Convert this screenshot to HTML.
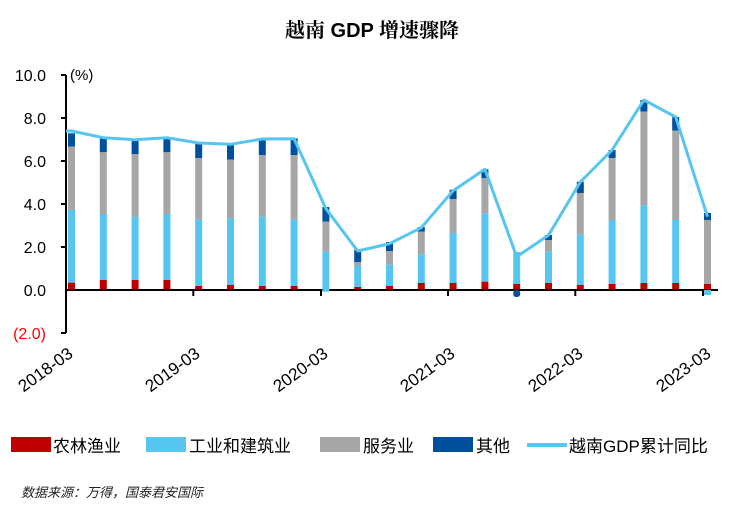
<!DOCTYPE html>
<html><head><meta charset="utf-8"><style>
body{margin:0;background:#fff;}
svg{display:block;font-family:"Liberation Sans","Noto Sans CJK SC",sans-serif;}
</style></head><body>
<svg width="753" height="505" viewBox="0 0 753 505">
<text x="372" y="37" text-anchor="middle" font-size="20" font-weight="bold" font-family="'Liberation Sans','Noto Serif CJK SC',serif">越南 GDP 增速骤降</text>
<g font-size="16" fill="#000" text-anchor="end">
<text x="46" y="81">10.0</text><text x="46" y="124">8.0</text><text x="46" y="167">6.0</text><text x="46" y="210">4.0</text><text x="46" y="253">2.0</text><text x="46" y="296">0.0</text><text x="46" y="339" fill="#FF0000">(2.0)</text>
</g>
<text x="70" y="80" font-size="15">(%)</text>
<g stroke="#000" stroke-width="2" fill="none">
<line x1="66" y1="75" x2="66" y2="333"/>
<line x1="61" y1="75" x2="66" y2="75"/><line x1="61" y1="118" x2="66" y2="118"/><line x1="61" y1="161" x2="66" y2="161"/><line x1="61" y1="204" x2="66" y2="204"/><line x1="61" y1="247" x2="66" y2="247"/><line x1="61" y1="333" x2="66" y2="333"/>
<line x1="66" y1="290" x2="718" y2="290"/>
<line x1="193.3" y1="290" x2="193.3" y2="296"/><line x1="321" y1="290" x2="321" y2="296"/><line x1="448" y1="290" x2="448" y2="296"/><line x1="575.3" y1="290" x2="575.3" y2="296"/><line x1="703" y1="290" x2="703" y2="296"/>
</g>
<g>
<g transform="translate(68,0)"><rect y="133.3" width="7" height="13.4" fill="#00509E"/><rect y="146.7" width="7" height="63.3" fill="#A6A6A6"/><rect y="210" width="7" height="72.7" fill="#56C5F0"/><rect y="282.7" width="7" height="6.8" fill="#C00000"/></g>
<g transform="translate(99.8,0)"><rect y="137" width="7" height="15.3" fill="#00509E"/><rect y="152.3" width="7" height="61.7" fill="#A6A6A6"/><rect y="214" width="7" height="66" fill="#56C5F0"/><rect y="280" width="7" height="9.5" fill="#C00000"/></g>
<g transform="translate(131.6,0)"><rect y="139" width="7" height="15" fill="#00509E"/><rect y="154" width="7" height="62.7" fill="#A6A6A6"/><rect y="216.7" width="7" height="63.3" fill="#56C5F0"/><rect y="280" width="7" height="9.5" fill="#C00000"/></g>
<g transform="translate(163.4,0)"><rect y="137" width="7" height="15.3" fill="#00509E"/><rect y="152.3" width="7" height="61.7" fill="#A6A6A6"/><rect y="214" width="7" height="66" fill="#56C5F0"/><rect y="280" width="7" height="9.5" fill="#C00000"/></g>
<g transform="translate(195.2,0)"><rect y="142" width="7" height="16" fill="#00509E"/><rect y="158" width="7" height="61.7" fill="#A6A6A6"/><rect y="219.7" width="7" height="66.3" fill="#56C5F0"/><rect y="286" width="7" height="3.5" fill="#C00000"/></g>
<g transform="translate(227,0)"><rect y="144" width="7" height="15.7" fill="#00509E"/><rect y="159.7" width="7" height="58.6" fill="#A6A6A6"/><rect y="218.3" width="7" height="66.7" fill="#56C5F0"/><rect y="285" width="7" height="4.5" fill="#C00000"/></g>
<g transform="translate(258.8,0)"><rect y="138.3" width="7" height="16.7" fill="#00509E"/><rect y="155" width="7" height="61.7" fill="#A6A6A6"/><rect y="216.7" width="7" height="69.3" fill="#56C5F0"/><rect y="286" width="7" height="3.5" fill="#C00000"/></g>
<g transform="translate(290.6,0)"><rect y="138.3" width="7" height="16.7" fill="#00509E"/><rect y="155" width="7" height="64.7" fill="#A6A6A6"/><rect y="219.7" width="7" height="66.3" fill="#56C5F0"/><rect y="286" width="7" height="3.5" fill="#C00000"/></g>
<g transform="translate(322.4,0)"><rect y="207" width="7" height="14.7" fill="#00509E"/><rect y="221.7" width="7" height="30" fill="#A6A6A6"/><rect y="251.7" width="7" height="40" fill="#56C5F0"/></g>
<g transform="translate(354.2,0)"><rect y="250" width="7" height="12" fill="#00509E"/><rect y="262" width="7" height="4" fill="#A6A6A6"/><rect y="266" width="7" height="21" fill="#56C5F0"/><rect y="287" width="7" height="2.5" fill="#C00000"/></g>
<g transform="translate(386,0)"><rect y="242" width="7" height="9" fill="#00509E"/><rect y="251" width="7" height="13.7" fill="#A6A6A6"/><rect y="264.7" width="7" height="21.3" fill="#56C5F0"/><rect y="286" width="7" height="3.5" fill="#C00000"/></g>
<g transform="translate(417.8,0)"><rect y="227" width="7" height="4.7" fill="#00509E"/><rect y="231.7" width="7" height="22.6" fill="#A6A6A6"/><rect y="254.3" width="7" height="28.7" fill="#56C5F0"/><rect y="283" width="7" height="6.5" fill="#C00000"/></g>
<g transform="translate(449.6,0)"><rect y="189.7" width="7" height="9.3" fill="#00509E"/><rect y="199" width="7" height="34" fill="#A6A6A6"/><rect y="233" width="7" height="50" fill="#56C5F0"/><rect y="283" width="7" height="6.5" fill="#C00000"/></g>
<g transform="translate(481.4,0)"><rect y="169.3" width="7" height="8.7" fill="#00509E"/><rect y="178" width="7" height="35.3" fill="#A6A6A6"/><rect y="213.3" width="7" height="68.4" fill="#56C5F0"/><rect y="281.7" width="7" height="7.8" fill="#C00000"/></g>
<g transform="translate(513.2,0)"><rect y="252" width="7" height="32" fill="#56C5F0"/><rect y="284" width="7" height="5.5" fill="#C00000"/><rect y="290" width="7" height="7" rx="3" fill="#00509E"/></g>
<g transform="translate(545,0)"><rect y="235" width="7" height="5" fill="#00509E"/><rect y="240" width="7" height="11.7" fill="#A6A6A6"/><rect y="251.7" width="7" height="31.3" fill="#56C5F0"/><rect y="283" width="7" height="6.5" fill="#C00000"/></g>
<g transform="translate(576.8,0)"><rect y="181.7" width="7" height="11.3" fill="#00509E"/><rect y="193" width="7" height="41.3" fill="#A6A6A6"/><rect y="234.3" width="7" height="50.7" fill="#56C5F0"/><rect y="285" width="7" height="4.5" fill="#C00000"/></g>
<g transform="translate(608.6,0)"><rect y="150" width="7" height="8" fill="#00509E"/><rect y="158" width="7" height="62" fill="#A6A6A6"/><rect y="220" width="7" height="64" fill="#56C5F0"/><rect y="284" width="7" height="5.5" fill="#C00000"/></g>
<g transform="translate(640.4,0)"><rect y="100" width="7" height="11.7" fill="#00509E"/><rect y="111.7" width="7" height="93.6" fill="#A6A6A6"/><rect y="205.3" width="7" height="77.7" fill="#56C5F0"/><rect y="283" width="7" height="6.5" fill="#C00000"/></g>
<g transform="translate(672.2,0)"><rect y="117" width="7" height="13.7" fill="#00509E"/><rect y="130.7" width="7" height="89.3" fill="#A6A6A6"/><rect y="220" width="7" height="63" fill="#56C5F0"/><rect y="283" width="7" height="6.5" fill="#C00000"/></g>
<g transform="translate(704,0)"><rect y="213" width="7" height="7" fill="#00509E"/><rect y="220" width="7" height="64" fill="#A6A6A6"/><rect y="284" width="7" height="5.5" fill="#C00000"/><rect y="290" width="7" height="5" fill="#56C5F0"/></g>
</g>
<polyline fill="none" stroke="#56C5F0" stroke-width="3" stroke-linejoin="round" points="66,131 71.5,131 103.3,137.7 135.1,139.7 166.9,137.7 198.7,143 230.5,144.3 262.3,139 294.1,138.7 325.9,208.7 357.7,251 389.5,243.7 421.3,227.7 453.1,190.7 484.9,169.3 516.7,256.7 548.5,235.3 580.3,182 612.1,150 643.9,100 675.7,117 707.5,216.7"/>
<g font-size="17" text-anchor="end">
<text transform="translate(74,356) rotate(-36)">2018-03</text>
<text transform="translate(201,356) rotate(-36)">2019-03</text>
<text transform="translate(329,356) rotate(-36)">2020-03</text>
<text transform="translate(456,356) rotate(-36)">2021-03</text>
<text transform="translate(584,356) rotate(-36)">2022-03</text>
<text transform="translate(712,356) rotate(-36)">2023-03</text>
</g>
<g font-size="17">
<rect x="11" y="437" width="40" height="15" fill="#C00000"/><text x="53" y="452">农林渔业</text>
<rect x="146" y="437" width="40" height="15" fill="#56C5F0"/><text x="189" y="452">工业和建筑业</text>
<rect x="320" y="437" width="40" height="15" fill="#A6A6A6"/><text x="363" y="452">服务业</text>
<rect x="433" y="437" width="40" height="15" fill="#00509E"/><text x="476" y="452">其他</text>
<line x1="527" y1="445" x2="567" y2="445" stroke="#56C5F0" stroke-width="4"/><text x="569" y="452">越南GDP累计同比</text>
</g>
<text x="21" y="497" font-size="13" font-style="italic" fill="#222">数据来源：万得，国泰君安国际</text>
</svg>
</body></html>
